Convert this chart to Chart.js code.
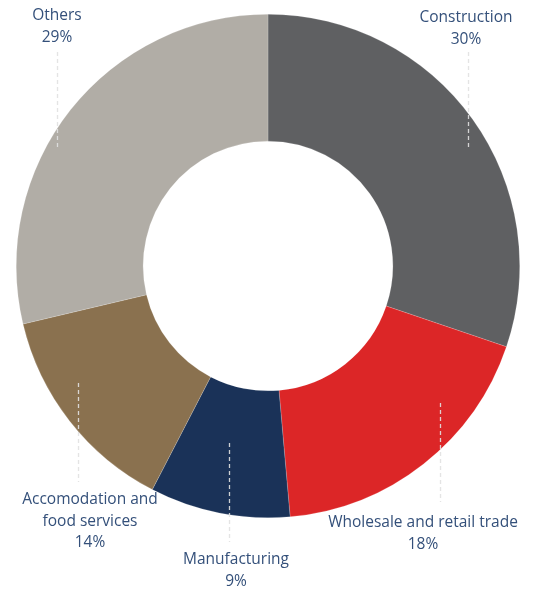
<!DOCTYPE html>
<html>
<head>
<meta charset="utf-8">
<script src="https://cdn.jsdelivr.net/npm/chart.js@4"></script>
<style>
  html, body { margin: 0; padding: 0; background: #fff; }
  #wrap { width: 535px; height: 589px; }
</style>
</head>
<body>
<div id="wrap"><canvas id="chart" width="535" height="589"></canvas></div>
<script>
// sectors, clockwise from 12 o'clock
var categories = ['Construction', 'Wholesale and retail trade', 'Manufacturing', 'Accomodation and food services', 'Others'];
var shares = [30.2, 18.4, 9.0, 13.7, 28.7];
var labelLines = [['Construction'], ['Wholesale and retail trade'], ['Manufacturing'], ['Accomodation and', 'food services'], ['Others']];
var colors = ['#5f6062', '#dc2627', '#1a3258', '#8a714f', '#b1ada6'];

// where each label sits and where its dashed leader runs (label layout only)
var callouts = [
  { x: 466, y: 18, lx: 468, ly1: 52, ly2: 150 },
  { x: 423, y: 523, lx: 440, ly1: 403, ly2: 502 },
  { x: 236, y: 560, lx: 229, ly1: 443, ly2: 542 },
  { x: 90, y: 500, lx: 78, ly1: 383, ly2: 482 },
  { x: 57, y: 16, lx: 57, ly1: 52, ly2: 150 }
];

var calloutPlugin = {
  id: 'callouts',
  afterDatasetsDraw: function(chart) {
    var ctx = chart.ctx;
    var meta = chart.getDatasetMeta(0);
    ctx.save();
    meta.data.forEach(function(arc, i) {
      var c = callouts[i];
      // leader
      ctx.beginPath();
      ctx.setLineDash([4, 3]);
      ctx.lineWidth = 1.3;
      ctx.strokeStyle = 'rgba(225,225,225,0.9)';
      ctx.moveTo(c.lx + 0.5, c.ly1);
      ctx.lineTo(c.lx + 0.5, c.ly2);
      ctx.stroke();
      // text
      ctx.setLineDash([]);
      ctx.fillStyle = '#34507a';
      ctx.font = '15.5px "Open Sans", sans-serif';
      ctx.textAlign = 'center';
      ctx.textBaseline = 'middle';
      var lines = labelLines[i].concat([Math.round(shares[i]) + '%']);
      lines.forEach(function(t, k) {
        ctx.fillText(t, c.x, c.y + k * 21.5);
      });
    });
    ctx.restore();
  }
};

new Chart(document.getElementById('chart'), {
  type: 'doughnut',
  data: {
    labels: categories,
    datasets: [{
      data: shares,
      backgroundColor: colors,
      borderColor: 'rgba(255,255,255,0.35)',
      borderWidth: 0.5
    }]
  },
  options: {
    responsive: false,
    animation: false,
    cutout: '49.6%',
    layout: { padding: { left: 16, right: 15, top: 14, bottom: 71 } },
    plugins: {
      legend: { display: false },
      tooltip: { enabled: false }
    }
  },
  plugins: [calloutPlugin]
});
</script>
</body>
</html>
